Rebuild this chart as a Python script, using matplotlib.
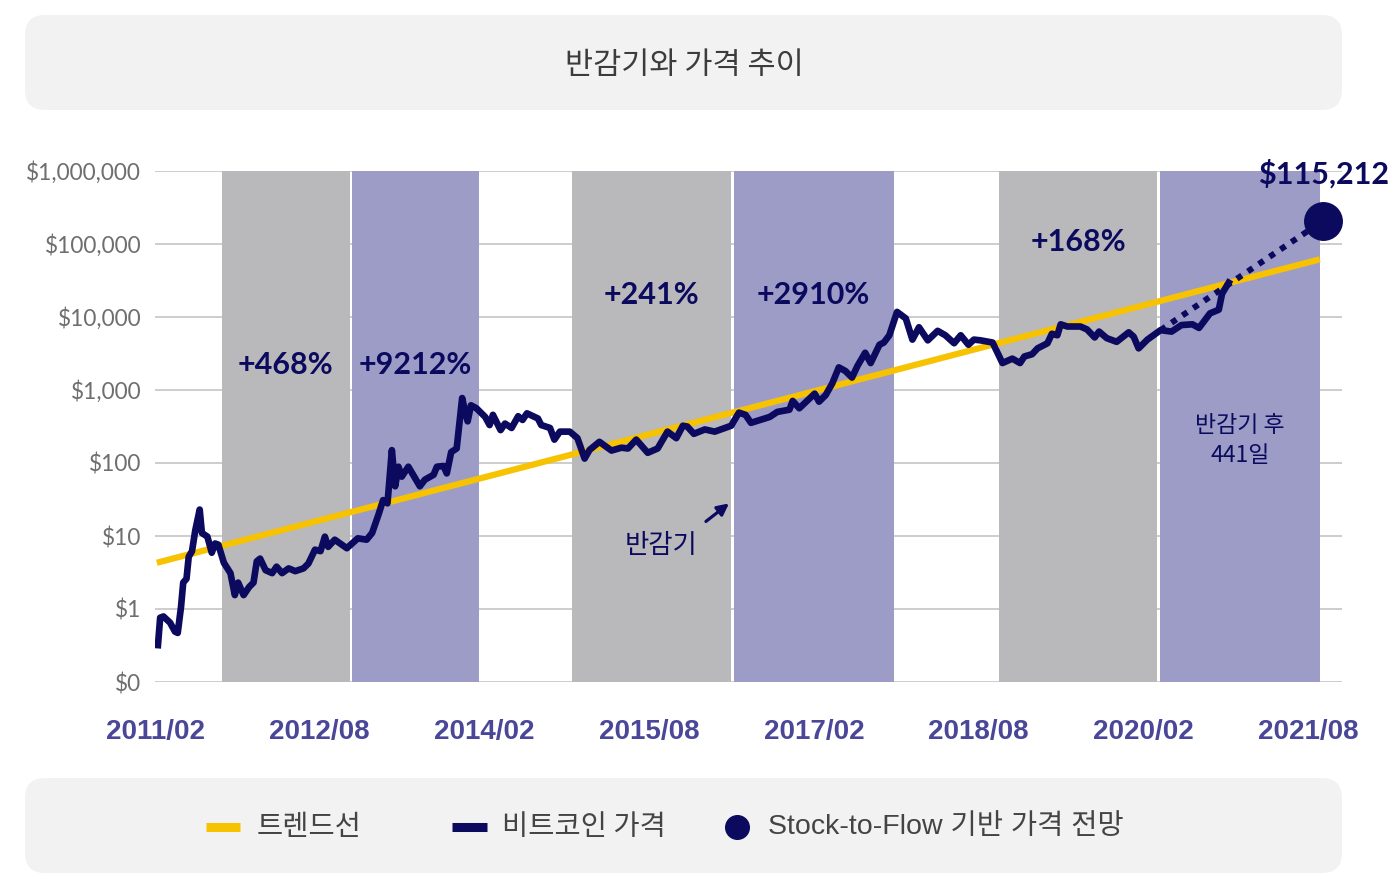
import numpy as np
import matplotlib
matplotlib.use("Agg")
import matplotlib.pyplot as plt
from matplotlib.patches import FancyBboxPatch
from matplotlib.lines import Line2D

# ---- data (x in decimal years) ----
price_years = [
    2011.11, 2011.13, 2011.16, 2011.22, 2011.265, 2011.29, 2011.32, 2011.34, 2011.37, 2011.39,
    2011.42, 2011.45, 2011.49, 2011.51, 2011.56, 2011.60, 2011.63, 2011.66, 2011.71, 2011.77,
    2011.81, 2011.84, 2011.89, 2011.94, 2011.98, 2012.01, 2012.04, 2012.09, 2012.15, 2012.19,
    2012.24, 2012.30, 2012.36, 2012.435, 2012.48, 2012.54, 2012.59, 2012.63, 2012.66, 2012.72,
    2012.83, 2012.93, 2013.01, 2013.06, 2013.12, 2013.16, 2013.20, 2013.24, 2013.27, 2013.30,
    2013.33, 2013.39, 2013.495, 2013.54, 2013.62, 2013.65, 2013.71, 2013.74, 2013.78, 2013.83,
    2013.88, 2013.91, 2013.93, 2013.96, 2014.01, 2014.09, 2014.13, 2014.16, 2014.23, 2014.27,
    2014.33, 2014.39, 2014.43, 2014.47, 2014.57, 2014.60, 2014.68, 2014.72, 2014.77, 2014.86,
    2014.93, 2014.995, 2015.04, 2015.13, 2015.24, 2015.33, 2015.39, 2015.465, 2015.57, 2015.66,
    2015.75, 2015.83, 2015.89, 2015.93, 2015.99, 2016.09, 2016.18, 2016.33, 2016.40, 2016.46,
    2016.51, 2016.68, 2016.75, 2016.86, 2016.89, 2016.95, 2017.09, 2017.13, 2017.19, 2017.25,
    2017.31, 2017.37, 2017.43, 2017.48, 2017.55, 2017.60, 2017.68, 2017.72, 2017.77, 2017.84,
    2017.92, 2017.98, 2018.04, 2018.12, 2018.21, 2018.28, 2018.36, 2018.42, 2018.49, 2018.54,
    2018.60, 2018.71, 2018.80, 2018.89, 2018.96, 2019.00, 2019.07, 2019.12, 2019.21, 2019.25,
    2019.30, 2019.33, 2019.39, 2019.51, 2019.57, 2019.64, 2019.68, 2019.75, 2019.84, 2019.95,
    2019.995, 2020.04, 2020.12, 2020.24, 2020.34, 2020.43, 2020.53, 2020.59, 2020.69, 2020.77,
    2020.80, 2020.86,
]
price_usd = [
    0.32, 0.76, 0.79, 0.65, 0.49, 0.47, 1.07, 2.3, 2.6, 5.2,
    6.2, 12, 23, 11, 9.8, 5.9, 7.9, 7.6, 4.3, 3.1,
    1.55, 2.3, 1.55, 2.0, 2.3, 4.5, 4.9, 3.4, 3.1, 3.8,
    3.1, 3.6, 3.3, 3.6, 4.2, 6.5, 6.2, 9.8, 7.1, 8.9,
    6.8, 9.3, 8.9, 11, 20, 31, 28, 150, 48, 89,
    65, 89, 48, 59, 69, 89, 91, 72, 141, 158,
    776, 479, 372, 617, 562, 427, 331, 457, 282, 347,
    302, 437, 389, 479, 407, 331, 302, 209, 269, 269,
    219, 115, 151, 195, 148, 162, 158, 209, 138, 158,
    269, 219, 324, 316, 251, 288, 269, 324, 490, 457,
    355, 427, 501, 537, 708, 562, 891, 692, 851, 1230,
    2040, 1820, 1480, 2140, 3240, 2340, 4170, 4470, 5620, 11750,
    9550, 4900, 7240, 4790, 6460, 5620, 4370, 5620, 4170, 4900,
    4790, 4470, 2340, 2690, 2340, 2880, 3090, 3720, 4370, 5890,
    5620, 7940, 7410, 7410, 6760, 5250, 6310, 5130, 4570, 6170,
    5370, 3720, 4900, 6610, 6310, 7760, 7940, 7080, 11220, 12590,
    20890, 29510,
]
trend_years = [2011.10, 2021.69]
trend_usd = [4.3, 61660]
s2f_years = [2020.24, 2021.715]
s2f_usd = [6610, 206000]

halving_bands = [  # (start, end, colour group)
    (2011.69, 2012.855, "pre"), (2012.875, 2014.03, "post"),
    (2014.88, 2016.33, "pre"), (2016.355, 2017.81, "post"),
    (2018.77, 2020.21, "pre"), (2020.235, 2021.69, "post"),
]
gain_labels = ["+468%", "+9212%", "+241%", "+2910%", "+168%"]
gain_pos = [(2012.27, 2200), (2013.45, 2200), (2015.60, 20200), (2017.08, 20200), (2019.49, 106000)]

tick_years = [2011.083, 2012.583, 2014.083, 2015.583, 2017.083, 2018.583, 2020.083, 2021.583]
tick_labels = ["2011/02", "2012/08", "2014/02", "2015/08", "2017/02", "2018/08", "2020/02", "2021/08"]
y_ticks = [0.1, 1, 10, 100, 1e3, 1e4, 1e5, 1e6]
y_labels = ["$0", "$1", "$10", "$100", "$1,000", "$10,000", "$100,000", "$1,000,000"]

NAVY = "#0b0a5e"
GOLD = "#f7c300"
GREY_BAND = "#b9b8bb"
PURPLE_BAND = "#9c9cc7"
KR = ["Noto Sans CJK KR"]
MIX = ["Liberation Sans", "Noto Sans CJK KR"]

fig = plt.figure(figsize=(14, 8.89), dpi=100)
fig.patch.set_facecolor("white")

# rounded header / footer boxes (pixel coords)
for y0 in (779, 16):
    fig.patches.append(FancyBboxPatch((25, y0), 1317, 95, boxstyle="round,pad=0,rounding_size=20",
                                      transform=None, facecolor="#f2f2f2", edgecolor="none", zorder=0))
fig.text(684 / 1400, 1 - 66 / 889, "반감기와 가격 추이", ha="center", va="center",
         fontsize=22, color="#3c3c3c", family=KR)

ax = fig.add_axes([155 / 1400, 1 - 682 / 889, 1187 / 1400, 511 / 889])
ax.set_yscale("log")
ax.set_ylim(0.1, 1e6)
ax.set_xlim(2011.101, 2021.892)
for s in ax.spines.values():
    s.set_visible(False)

for v in y_ticks:
    ax.axhline(v, color="#c9c9c9", lw=1.3, zorder=0.5)

for x0, x1, kind in halving_bands:
    ax.axvspan(x0, x1, ymin=0, ymax=1, color=GREY_BAND if kind == "pre" else PURPLE_BAND,
               lw=0, zorder=1)

ax.plot(trend_years, trend_usd, color=GOLD, lw=4.5, solid_capstyle="butt", zorder=3)
ax.plot(price_years, price_usd, color=NAVY, lw=4.8, solid_joinstyle="round", zorder=4)
ax.plot(s2f_years, s2f_usd, color=NAVY, lw=4.3, linestyle=(0, (1, 1.2)), zorder=4)
ax.plot(s2f_years[-1:], s2f_usd[-1:], "o", color=NAVY, ms=27, zorder=5, clip_on=False)

for lab, (gx, gy) in zip(gain_labels, gain_pos):
    ax.text(gx, gy, lab, ha="center", va="center", fontsize=22, fontweight="bold",
            family="Lato", color=NAVY, zorder=6)
ax.text(2021.72, 900000, "$115,212", ha="center", va="center", fontsize=22, fontweight="bold",
        family="Lato", color=NAVY, zorder=6, clip_on=False)

ax.text(2015.69, 7.5, "반감기", ha="center", va="center", fontsize=19, color=NAVY, family=KR, zorder=6)
ax.annotate("", xy=(2016.33, 29.5), xytext=(2016.08, 15),
            arrowprops=dict(arrowstyle="-|>", color=NAVY, lw=2.3, mutation_scale=17), zorder=6)
ax.text(2020.965, 205, "반감기 후\n441일", ha="center", va="center", fontsize=16.5, color=NAVY,
        family=KR, linespacing=1.4, zorder=6)

ax.set_yticks(y_ticks)
ax.set_yticklabels(y_labels, family="Lato", fontsize=16.3, color="#6e6e6e")
ax.set_yticks([], minor=True)
ax.set_xticks(tick_years)
ax.set_xticklabels(tick_labels, family="Liberation Sans", fontweight="bold", fontsize=20,
                   color="#4a4799")
ax.tick_params(axis="both", length=0)
ax.tick_params(axis="y", pad=10)
ax.tick_params(axis="x", pad=26.5)

# legend drawn by hand in the footer box
ly = 62 / 889
fig.lines.append(Line2D([206 / 1400, 240 / 1400], [ly, ly], color=GOLD, lw=6.5,
                        solid_capstyle="butt", transform=fig.transFigure))
fig.lines.append(Line2D([452 / 1400, 487 / 1400], [ly, ly], color=NAVY, lw=6.5,
                        solid_capstyle="butt", transform=fig.transFigure))
fig.lines.append(Line2D([737 / 1400], [ly], marker="o", color=NAVY, ms=17, lw=0, transform=fig.transFigure))
fig.text(257 / 1400, ly, "트렌드선", ha="left", va="center", fontsize=20.5, color="#444444", family=KR)
fig.text(502 / 1400, ly, "비트코인 가격", ha="left", va="center", fontsize=20.5, color="#444444", family=KR)
fig.text(768 / 1400, ly, "Stock-to-Flow 기반 가격 전망", ha="left", va="center", fontsize=20.5,
         color="#444444", family=MIX)

fig.savefig("out.png", dpi=100)
